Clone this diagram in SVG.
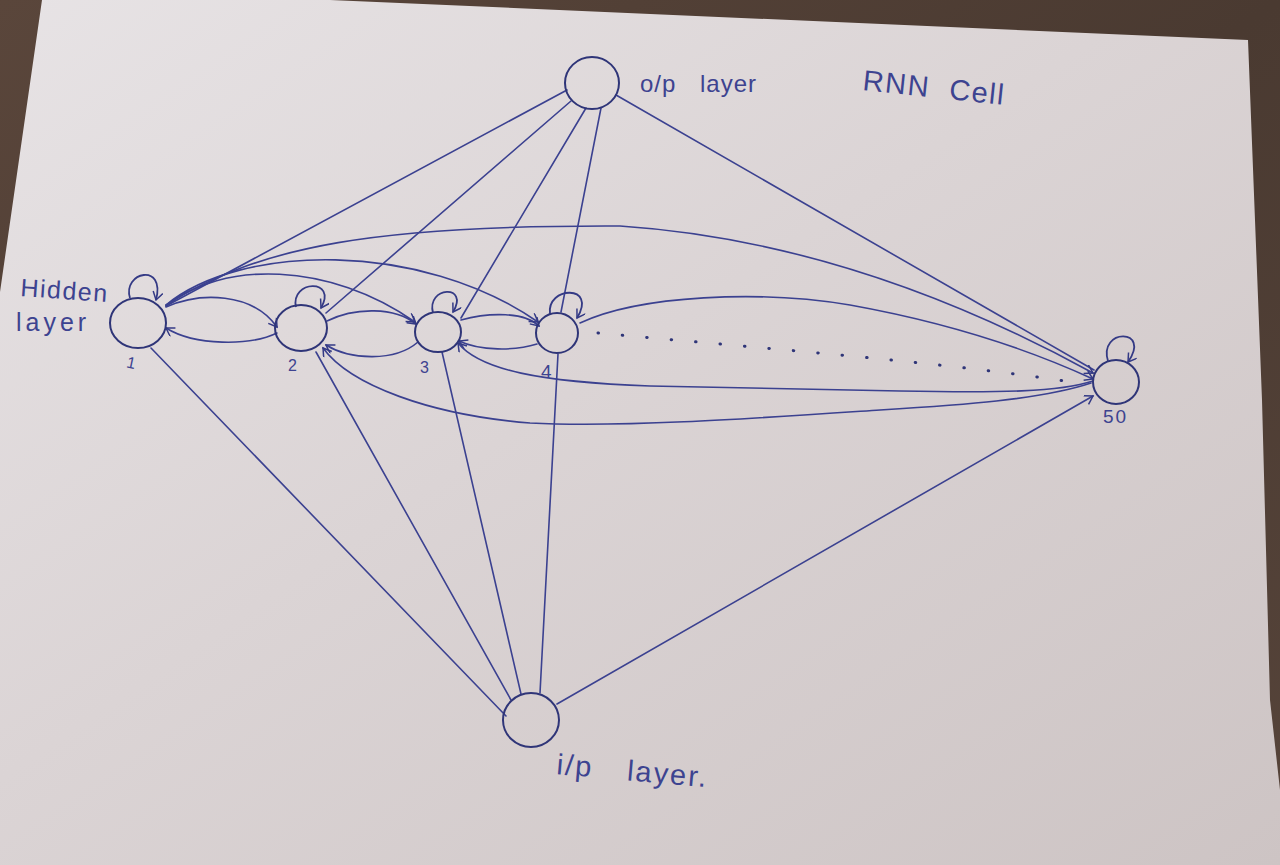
<svg xmlns="http://www.w3.org/2000/svg" width="1280" height="865" viewBox="0 0 1280 865">
  <defs>
    <linearGradient id="wood" x1="0" y1="0" x2="1" y2="1">
      <stop offset="0" stop-color="#5a463b"/>
      <stop offset="0.5" stop-color="#4a3a31"/>
      <stop offset="1" stop-color="#56443a"/>
    </linearGradient>
    <linearGradient id="paper" x1="0" y1="0" x2="1" y2="1">
      <stop offset="0" stop-color="#e7e3e5"/>
      <stop offset="0.45" stop-color="#dbd4d5"/>
      <stop offset="1" stop-color="#cdc4c4"/>
    </linearGradient>
    <marker id="arr" markerUnits="userSpaceOnUse" markerWidth="14" markerHeight="14" refX="9" refY="5" orient="auto">
      <path d="M1,0 L9,5 L1,10" fill="none" stroke="#343a85" stroke-width="1.5"/>
    </marker>
    <style>
      .ink { fill: none; stroke: #3b4190; stroke-width: 1.6; stroke-linecap: round; }
      .node { fill: none; stroke: #2f3578; stroke-width: 2; }
      .loop { fill: none; stroke: #343a85; stroke-width: 1.8; }
      .dots { fill: none; stroke: #2f3578; stroke-width: 3; stroke-linecap: round; stroke-dasharray: 0.5 24; }
      .txt { font-family: "Liberation Sans", "DejaVu Sans", sans-serif; fill: #3d4390; }
    </style>
  </defs>

  <!-- background: table and paper -->
  <rect x="0" y="0" width="1280" height="865" fill="url(#wood)"/>
  <path d="M42,0 L330,0 L1248,40 L1262,400 L1270,700 L1280,790 L1280,865 L0,865 L0,292 Z" fill="url(#paper)"/>

  <!-- connectors -->
  <g id="connectors">
    <!-- output layer links -->
    <line class="ink" x1="567" y1="90" x2="166" y2="306"/>
    <line class="ink" x1="571" y1="101" x2="326" y2="313"/>
    <line class="ink" x1="586" y1="108" x2="461" y2="318"/>
    <line class="ink" x1="601" y1="108" x2="561" y2="312"/>
    <line class="ink" x1="616" y1="95" x2="1094" y2="370"/>
    <!-- input layer links -->
    <line class="ink" x1="506" y1="716" x2="151" y2="348"/>
    <line class="ink" x1="511" y1="700" x2="316" y2="352"/>
    <line class="ink" x1="521" y1="694" x2="442" y2="352"/>
    <line class="ink" x1="540" y1="693" x2="558" y2="354"/>
    <line class="ink" x1="557" y1="704" x2="1093" y2="396" marker-end="url(#arr)"/>
    <!-- self loops -->
    <path class="loop" d="M130,298 C122,272 166,262 156,300" marker-end="url(#arr)"/>
    <path class="loop" d="M296,307 C290,280 338,278 321,308" marker-end="url(#arr)"/>
    <path class="loop" d="M433,313 C426,286 470,284 453,312" marker-end="url(#arr)"/>
    <path class="loop" d="M550,314 C546,286 598,284 577,318" marker-end="url(#arr)"/>
    <path class="loop" d="M1108,361 C1098,328 1152,328 1128,362" marker-end="url(#arr)"/>
    <!-- neighbour lobes -->
    <path class="ink" d="M166,307 C200,292 252,292 277,327" marker-end="url(#arr)"/>
    <path class="ink" d="M277,333 C250,346 195,346 166,328" marker-end="url(#arr)"/>
    <path class="ink" d="M327,321 C355,307 395,307 416,324" marker-end="url(#arr)"/>
    <path class="ink" d="M418,342 C395,362 350,360 326,345" marker-end="url(#arr)"/>
    <path class="ink" d="M461,320 C490,312 525,312 539,326" marker-end="url(#arr)"/>
    <path class="ink" d="M537,344 C515,351 480,351 459,341" marker-end="url(#arr)"/>
    <!-- long links from node 1 -->
    <path class="ink" d="M166,306 C222,260 330,262 415,322" marker-end="url(#arr)"/>
    <path class="ink" d="M166,305 C240,244 420,240 538,322" marker-end="url(#arr)"/>
    <path class="ink" d="M166,305 C260,245 380,225 620,226 C800,238 960,300 1093,373" marker-end="url(#arr)"/>
    <!-- node 4 to node 50 -->
    <path class="ink" d="M580,323 C640,295 760,290 850,305 C950,323 1030,350 1093,379" marker-end="url(#arr)"/>
    <path class="dots" d="M598,333 C760,348 940,362 1065,381"/>
    <!-- node 50 back to nodes 3 and 2 -->
    <path class="ink" d="M1093,381 C1060,392 1000,393 900,391 L650,386 C540,382 480,370 458,343" marker-end="url(#arr)"/>
    <path class="ink" d="M1091,383 C1040,400 960,405 880,410 C760,418 620,428 530,423 C430,415 350,385 323,348" marker-end="url(#arr)"/>
  </g>

  <!-- nodes -->
  <g id="node-output">
    <ellipse class="node" cx="592" cy="83" rx="27" ry="26"/>
    <text class="txt" x="640" y="92" font-size="24" style="word-spacing:16px;letter-spacing:1px">o/p layer</text>
  </g>
  <g id="node-input">
    <ellipse class="node" cx="531" cy="720" rx="28" ry="27"/>
    <text class="txt" x="556" y="774" font-size="29" style="word-spacing:24px;letter-spacing:2px" transform="rotate(5 556 774)">i/p layer.</text>
  </g>
  <g id="node-h1">
    <ellipse class="node" cx="138" cy="323" rx="28" ry="25"/>
    <text class="txt" x="127" y="368" font-size="16" transform="rotate(12 130 362)">1</text>
  </g>
  <g id="node-h2">
    <ellipse class="node" cx="301" cy="328" rx="26" ry="23"/>
    <text class="txt" x="288" y="371" font-size="16">2</text>
  </g>
  <g id="node-h3">
    <ellipse class="node" cx="438" cy="332" rx="23" ry="20"/>
    <text class="txt" x="420" y="373" font-size="16">3</text>
  </g>
  <g id="node-h4">
    <ellipse class="node" cx="557" cy="333" rx="21" ry="20"/>
    <text class="txt" x="541" y="378" font-size="19">4</text>
  </g>
  <g id="node-h50">
    <ellipse class="node" cx="1116" cy="382" rx="23" ry="22"/>
    <text class="txt" x="1103" y="423" font-size="19" style="letter-spacing:2px">50</text>
  </g>

  <!-- labels -->
  <g id="label-hidden">
    <text class="txt" x="20" y="296" font-size="25" style="letter-spacing:1.5px" transform="rotate(4 20 296)">Hidden</text>
    <text class="txt" x="16" y="331" font-size="25" style="letter-spacing:4px">layer</text>
  </g>
  <g id="label-title">
    <text class="txt" x="862" y="90" font-size="29" style="word-spacing:10px;letter-spacing:1.5px" transform="rotate(6 862 90)">RNN Cell</text>
  </g>
</svg>
